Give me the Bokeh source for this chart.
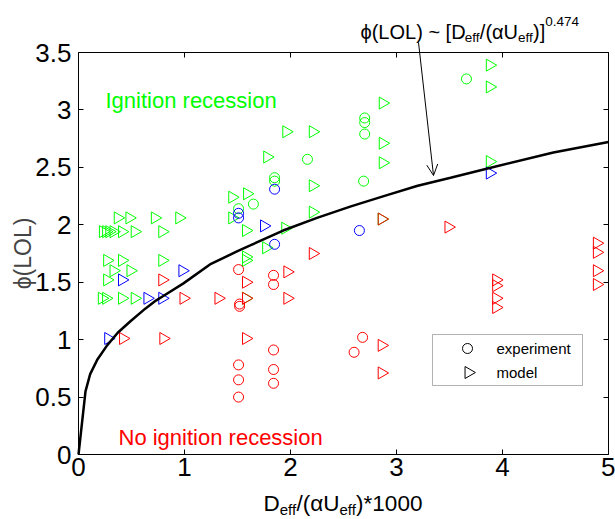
import numpy as np
from bokeh.plotting import figure
from bokeh.models import (Range1d, LinearAxis, FixedTicker, Label, Arrow, OpenHead,
                          BoxAnnotation, CustomJSTickFormatter)
from bokeh.embed import file_html
from bokeh.resources import INLINE

# ---------------- data ----------------
x_ticks = [0, 1, 2, 3, 4, 5]
x_tick_labels = ["0", "1", "2", "3", "4", "5"]
y_ticks = [0, 0.5, 1, 1.5, 2, 2.5, 3, 3.5]
y_tick_labels = ["0", "0.5", "1", "1.5", "2", "2.5", "3", "3.5"]

# experiment (circles)
green_circ_x = [1.51, 1.65, 1.85, 1.85, 2.16, 2.69, 2.70, 2.70, 2.70, 3.66]
green_circ_y = [2.14, 2.18, 2.41, 2.38, 2.57, 2.38, 2.93, 2.89, 2.79, 3.27]
blue_circ_x = [1.51, 1.51, 1.85, 1.85, 2.65]
blue_circ_y = [2.10, 2.06, 2.31, 1.83, 1.95]
red_circ_x = [1.51, 1.52, 1.52, 1.51, 1.51, 1.51, 1.84, 1.84, 1.84, 1.84, 1.84, 2.68, 2.60]
red_circ_y = [1.61, 1.31, 1.29, 0.78, 0.65, 0.50, 1.56, 1.48, 0.91, 0.74, 0.62, 1.02, 0.89]

# model (triangles)
green_tri_x = [0.37, 0.48, 0.72, 0.95,
               0.23, 0.26, 0.29, 0.33, 0.41, 0.53, 0.79,
               0.27, 0.41, 0.79,
               0.33, 0.49,
               0.27,
               0.22, 0.26, 0.41, 0.53,
               1.45, 1.45, 1.59, 1.58, 1.58, 1.58, 1.58, 1.78, 1.77, 1.95,
               1.96, 2.21, 2.21, 2.21, 2.87, 2.87, 2.87, 2.86, 3.88, 3.88, 3.88]
green_tri_y = [2.06, 2.06, 2.06, 2.06,
               1.94, 1.94, 1.94, 1.94, 1.94, 1.94, 1.94,
               1.69, 1.69, 1.69,
               1.60, 1.60,
               1.52,
               1.36, 1.36, 1.36, 1.36,
               2.24, 2.06, 2.27, 1.95, 1.72, 1.69, 1.36, 2.59, 1.80, 1.97,
               2.81, 2.81, 2.34, 2.11, 3.06, 2.71, 2.54, 2.05, 3.39, 3.20, 2.55]
blue_tri_x = [0.98, 0.41, 0.65, 0.79, 0.28, 1.75, 3.88]
blue_tri_y = [1.60, 1.52, 1.36, 1.36, 1.01, 1.99, 2.45]
red_tri_x = [0.79, 0.99, 1.32, 1.58, 1.58, 0.42, 0.80, 1.58, 1.97, 1.97, 2.21,
             2.86, 2.86, 2.86, 3.49, 3.94, 3.94, 3.94, 3.94, 4.89, 4.89, 4.89, 4.89]
red_tri_y = [1.52, 1.36, 1.36, 1.50, 1.36, 1.01, 1.01, 1.01, 1.59, 1.36, 1.75,
             2.05, 0.95, 0.71, 1.98, 1.52, 1.47, 1.36, 1.28, 1.84, 1.76, 1.60, 1.48]

# fitted curve phi(LOL) ~ [Deff/(alpha Ueff)]^0.474
curve_x = [0.0, 0.066, 0.11, 0.18, 0.27, 0.37, 0.49, 0.63, 0.73, 0.80, 0.99, 1.25, 1.50,
           1.62, 1.93, 2.25, 2.57, 2.88, 3.20, 3.51, 3.86, 4.48, 5.0]
curve_y = [0.0, 0.55, 0.70, 0.83, 0.95, 1.06, 1.16, 1.27, 1.34, 1.38, 1.49, 1.66, 1.77,
           1.82, 1.95, 2.06, 2.16, 2.25, 2.34, 2.41, 2.49, 2.63, 2.72]

legend_labels = ["experiment", "model"]

GREEN = "#00ff00"
BLUE = "#0000ff"
RED = "#ff0000"
FONT = "Liberation Sans"

# ---------------- layout (page pixels) ----------------
PW, PH = 615, 519
XMIN, XMAX, YMIN, YMAX = 0.0, 5.0, 0.0, 3.5
FL, FR, FT, FB = 78, 608, 52, 454          # plot box on the page
SX = (FR - FL) / (XMAX - XMIN)
SY = (FB - FT) / (YMAX - YMIN)


def sx2x(sx):
    return XMIN + (sx - FL) / SX


def sy2y(sy):
    return YMIN + (FB - sy) / SY


# the frame covers the whole canvas; the plot box is drawn by fixed-location axes
p = figure(width=PW, height=PH, output_backend="svg", toolbar_location=None, title=None,
           x_range=Range1d(sx2x(0), sx2x(PW)), y_range=Range1d(sy2y(PH), sy2y(0)),
           min_border=0, min_border_left=0, min_border_right=0,
           min_border_top=0, min_border_bottom=0,
           x_axis_location=None, y_axis_location=None)
p.grid.visible = False
p.outline_line_color = None
p.background_fill_color = "white"
p.border_fill_color = "white"


def make_axis(loc, bounds, ticks, labels=None):
    ax = LinearAxis(fixed_location=loc, bounds=bounds)
    ax.ticker = FixedTicker(ticks=ticks)
    ax.major_tick_in = 5
    ax.major_tick_out = 0
    ax.minor_tick_line_color = None
    ax.axis_line_color = "black"
    ax.axis_line_width = 1
    ax.major_tick_line_color = "black"
    ax.major_label_text_font = FONT
    ax.major_label_text_font_size = "26px"
    ax.major_label_text_color = "black"
    if labels is not None:
        ax.major_label_overrides = {t: l for t, l in zip(ticks, labels)}
    else:
        ax.formatter = CustomJSTickFormatter(code="return ''")
        ax.major_label_text_font_size = "0px"
        ax.major_label_standoff = 0
    return ax


xb = make_axis(YMIN, (XMIN, XMAX), x_ticks, x_tick_labels)
xb.major_label_standoff = 3
p.add_layout(xb, "below")

yl = make_axis(XMIN, (YMIN, YMAX), y_ticks, y_tick_labels)
yl.major_label_standoff = 7
yl.axis_label = "\u03d5(LOL)"
yl.axis_label_text_font = FONT
yl.axis_label_text_font_size = "23px"
yl.axis_label_text_font_style = "normal"
yl.axis_label_standoff = -4
p.add_layout(yl, "left")

p.add_layout(make_axis(YMAX, (XMIN, XMAX), x_ticks), "above")
p.add_layout(make_axis(XMAX, (YMIN, YMAX), y_ticks), "right")

# ---------------- marks ----------------
TRI = dict(marker="triangle", angle=-np.pi / 2, size=12, fill_color=None, line_width=1)
CIR = dict(marker="circle", size=10, fill_color=None, line_width=1)

p.scatter(green_tri_x, green_tri_y, line_color=GREEN, **TRI)
p.scatter(green_circ_x, green_circ_y, line_color=GREEN, **CIR)
p.scatter(blue_tri_x, blue_tri_y, line_color=BLUE, **TRI)
p.scatter(blue_circ_x, blue_circ_y, line_color=BLUE, **CIR)
p.scatter(red_tri_x, red_tri_y, line_color=RED, **TRI)
p.scatter(red_circ_x, red_circ_y, line_color=RED, **CIR)

p.line(curve_x, curve_y, line_color="black", line_width=2.5)

# ---------------- legend (drawn as a key box) ----------------
p.add_layout(BoxAnnotation(left=sx2x(432), right=sx2x(582), top=sy2y(334), bottom=sy2y(385),
                           fill_color="white", fill_alpha=1, line_color="black",
                           line_width=1, level="underlay"))
p.scatter([sx2x(467)], [sy2y(348)], line_color="black", **CIR)
p.scatter([sx2x(468)], [sy2y(372)], line_color="black", **TRI)
for lab, sy in zip(legend_labels, [348, 372]):
    p.add_layout(Label(x=sx2x(496), y=sy2y(sy), text=lab, text_color="black",
                       text_font=FONT, text_font_size="15px", text_baseline="middle"))

# ---------------- texts ----------------
p.add_layout(Label(x=sx2x(105), y=sy2y(100), text="Ignition recession",
                   text_color=GREEN, text_font=FONT, text_font_size="22px",
                   text_baseline="alphabetic"))
p.add_layout(Label(x=sx2x(118), y=sy2y(437), text="No ignition recession",
                   text_color=RED, text_font=FONT, text_font_size="22px",
                   text_baseline="alphabetic"))

WID = {' ': 0.278, '(': 0.333, ')': 0.333, '*': 0.389, '/': 0.278, '.': 0.278,
       '[': 0.278, ']': 0.278, '~': 0.584, 'D': 0.722, 'L': 0.556, 'O': 0.778,
       'U': 0.722, 'e': 0.556, 'f': 0.278, '\u03b1': 0.578, '\u03d5': 0.52}


def twidth(s, size):
    return sum(WID.get(c, 0.556) for c in s) * size


def chain(segs, sx):
    for txt, size, sy in segs:
        p.add_layout(Label(x=sx2x(sx), y=sy2y(sy), text=txt, text_color="black",
                           text_font=FONT, text_font_size=f"{size}px",
                           text_baseline="alphabetic", text_align="left"))
        sx += twidth(txt, size)


# annotation above the plot
chain([("\u03d5(LOL) ~ [D", 20, 31), ("eff", 13.5, 37), ("/(\u03b1U", 20, 31),
       ("eff", 13.5, 37), (")]", 20, 31), ("0.474", 13.5, 21)], 360)

# arrow pointing at the curve
p.add_layout(Arrow(end=OpenHead(size=11, line_width=1, line_color="black"),
                   x_start=sx2x(418), y_start=sy2y(42), x_end=sx2x(433), y_end=sy2y(175),
                   line_width=1, line_color="black"))

# x axis label
chain([("D", 22.5, 503), ("eff", 15, 509), ("/(\u03b1U", 22.5, 503),
       ("eff", 15, 509), (")*1000", 22.5, 503)], 263)

open("out.html", "w").write(file_html(p, INLINE))
